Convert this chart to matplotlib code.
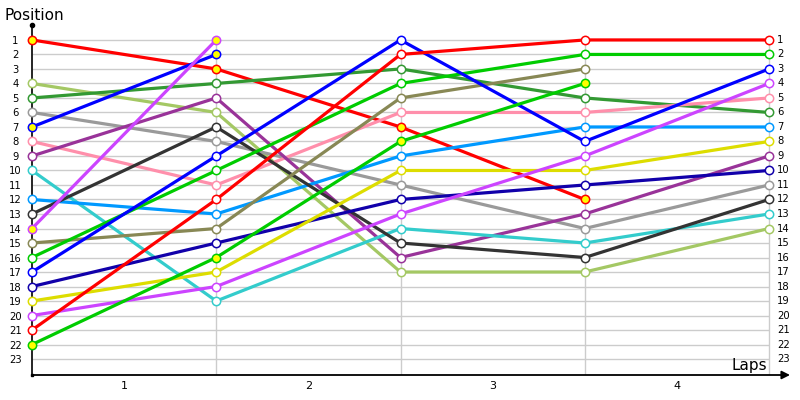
import matplotlib
matplotlib.use('Agg')
import matplotlib.pyplot as plt
import numpy as np

laps = [0, 1, 2, 3, 4]
lap_labels = ['1', '2', '3', '4']
positions = list(range(1, 24))

# position of each car after every lap (None = out of the race)
red_a = [1, 3, 7, 12, None]
light_green = [4, 6, 17, 17, 14]
dark_green = [5, 4, 3, 5, 6]
gray = [6, 8, 11, 14, 11]
blue_a = [7, 2, None, None, None]
pink = [8, 11, 6, 6, 5]
purple = [9, 5, 16, 13, 9]
turquoise = [10, 19, 14, 15, 13]
light_blue = [12, 13, 9, 7, 7]
black = [13, 7, 15, 16, 12]
violet_a = [14, 1, None, None, None]
olive = [15, 14, 5, 3, None]
green_a = [16, 10, 4, 2, 2]
blue_b = [17, 9, 1, 8, 3]
navy = [18, 15, 12, 11, 10]
yellow = [19, 17, 10, 10, 8]
violet_b = [20, 18, 13, 9, 4]
red_b = [21, 12, 2, 1, 1]
green_b = [22, 16, 8, 4, None]

series = [
    (red_a, '#ff0000', True),
    (light_green, '#a4c864', False),
    (dark_green, '#339933', False),
    (gray, '#9a9a9a', False),
    (blue_a, '#0000ff', True),
    (pink, '#ff8fab', False),
    (purple, '#993399', False),
    (turquoise, '#33cccc', False),
    (light_blue, '#0099ff', False),
    (black, '#333333', False),
    (violet_a, '#cc44ff', True),
    (olive, '#888855', False),
    (green_a, '#00cc00', False),
    (blue_b, '#0000ff', False),
    (navy, '#1100aa', False),
    (yellow, '#dddd00', False),
    (violet_b, '#cc44ff', False),
    (red_b, '#ff0000', False),
    (green_b, '#00cc00', True),
]

fig = plt.figure(figsize=(8, 4), dpi=100)
ax = fig.add_axes([0.04, 0.0625, 0.9475, 0.875])
x_end = 4 * 758 / 737
ax.set_xlim(0, x_end)
ax.set_ylim(24.1, -0.03)

# grid
ax.hlines(positions, 0, 4, colors='#cccccc', lw=1, zorder=1)
ax.vlines(laps[1:], 1, 24.1, colors='#cccccc', lw=1, zorder=1)

for vals, col, pit in series:
    y = np.array([np.nan if v is None else v for v in vals], dtype=float)
    ax.plot(laps, y, color=col, lw=2.3, marker='o', ms=6,
            mfc='#ffff00' if pit else 'white', mec=col, mew=1.1,
            zorder=3, clip_on=False)

for s in ['top', 'right', 'bottom']:
    ax.spines[s].set_visible(False)
ax.spines['left'].set_color('black')
ax.spines['left'].set_linewidth(1.2)
ax.plot(0, -0.03, 'o', color='black', ms=3, clip_on=False, zorder=4)
ax.annotate('', xy=(x_end, 24.1), xytext=(0, 24.1),
            arrowprops=dict(arrowstyle='-|>', color='black', lw=1.3,
                            mutation_scale=12, shrinkA=0, shrinkB=0),
            annotation_clip=False)
ax.plot(0, 24.1, 's', color='black', ms=2, clip_on=False, zorder=4)

ax.set_yticks(positions)
ax.set_yticklabels([str(p) for p in positions], fontsize=7.2, ha='center')
ax.tick_params(axis='y', length=0, pad=12)
ax.set_xticks([0.5, 1.5, 2.5, 3.5])
ax.set_xticklabels(lap_labels, fontsize=8)
ax.tick_params(axis='x', length=0, pad=4)

for p in positions:
    ax.annotate(str(p), xy=(4, p), xytext=(6, 0), textcoords='offset points',
                fontsize=7.2, ha='left', va='center', annotation_clip=False)

fig.text(5 / 800, 1 - 15 / 400, 'Position', fontsize=11, ha='left', va='center')
ax.text(3.99, 23.45, 'Laps', fontsize=11, ha='right', va='center')

plt.savefig('out.png', dpi=100)
